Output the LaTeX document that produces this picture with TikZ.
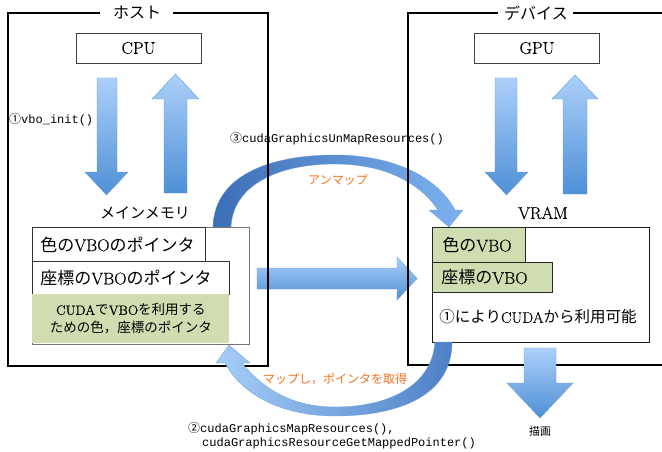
\documentclass[tikz,border=0pt]{standalone}
\usepackage{fontspec}
\setmainfont{Latin Modern Roman}[FakeBold=0.45]
\setmonofont{Liberation Mono}
\newfontfamily\jp{Noto Sans CJK JP}
\definecolor{alight}{RGB}{172,208,250}
\definecolor{adark}{RGB}{78,143,214}
\definecolor{aedge}{RGB}{105,155,215}
\definecolor{arcdarkA}{RGB}{60,110,182}
\definecolor{arclightA}{RGB}{125,178,240}
\definecolor{arclightB}{RGB}{165,205,248}
\definecolor{arcdarkB}{RGB}{78,128,198}
\definecolor{vgreen}{RGB}{208,221,176}
\definecolor{orangetxt}{RGB}{243,112,28}
\begin{document}
\begin{tikzpicture}[x=1pt,y=-1pt,
  frame/.style={line width=1.6pt, draw=black},
  unit/.style={draw=black!75, line width=0.8pt, minimum width=125pt, minimum height=30pt, inner sep=0pt, font=\fontsize{17}{20}\selectfont},
  blockarrow/.style={top color=alight, bottom color=adark, draw=aedge, line width=0.4pt},
  memwin/.style={draw=black!55, line width=0.9pt, fill=white, anchor=north west, inner sep=0pt},
  ptr/.style={draw=black!80, line width=0.8pt, anchor=north west, inner xsep=8pt, inner ysep=0pt, align=left, font=\fontsize{17}{20}\selectfont},
  vbo/.style={ptr, fill=vgreen, draw=black!85},
  code/.style={font=\fontsize{12}{14}\ttfamily, anchor=west, inner sep=0pt},
  orangelbl/.style={text=orangetxt, font=\fontsize{12}{14}\jp, inner sep=0pt},
  title/.style={font=\fontsize{16}{18}\jp, inner sep=0pt},
  caption/.style={font=\fontsize{15}{18}\selectfont, inner sep=0pt}]
\useasboundingbox (0,0) rectangle (662,452);

% middle horizontal arrow
\path[blockarrow] (257,268) -- (397,268) -- (397,257) -- (417,278.5) -- (397,300) -- (397,289) -- (257,289) -- cycle;

% arc 3 (unmap)
\path[left color=arcdarkA, right color=arclightA, draw=aedge, line width=0.3pt]
  (213,227) .. controls (214,178) and (265,155) .. (335,155)
  .. controls (395,155) and (438,178) .. (455,210)
  -- (463,210) -- (449,227) -- (429,210) -- (438,210)
  .. controls (420,183) and (385,164) .. (335,164)
  .. controls (278,164) and (233,185) .. (231,227) -- cycle;

% frames
\node[title] (host) at (137,12) {ホスト};
\node[title] (dev) at (536,13) {デバイス};
\draw[frame] (100,13) -- (8,13) -- (8,366) -- (268,366) -- (268,13) -- (173,13);
\draw[frame] (498,13) -- (408,13) -- (408,365) -- (664,365);
\draw[frame] (573,13) -- (664,13);

% processors
\node[unit] (cpu) at (138.5,48) {CPU};
\node[unit] (gpu) at (537,48) {GPU};

% vertical arrows
\path[blockarrow] (97,78) -- (117,78) -- (117,172) -- (128,172) -- (106.5,195) -- (85,172) -- (97,172) -- cycle;
\path[blockarrow] (175.5,74) -- (199,99) -- (187,99) -- (187,193) -- (164,193) -- (164,99) -- (152,99) -- cycle;
\path[blockarrow] (495,78) -- (517,78) -- (517,172) -- (528,172) -- (506.5,195) -- (485,172) -- (495,172) -- cycle;
\path[blockarrow] (575,75) -- (598,99) -- (587,99) -- (587,194) -- (563,194) -- (563,99) -- (552,99) -- cycle;

% main memory
\node[caption, font=\fontsize{15}{18}\jp] (mmlbl) at (145,213) {メインメモリ};
\node[memwin, minimum width=217pt, minimum height=117pt] (mm) at (32,227) {};
\node[ptr, text width=157pt, minimum height=34pt] (colptr) at (32,227) {{\jp 色の}VBO{\jp のポインタ}};
\node[ptr, text width=181pt, minimum height=33pt] (posptr) at (32,261) {{\jp 座標の}VBO{\jp のポインタ}};
\node[ptr, draw=none, fill=vgreen, text width=181pt, minimum height=49pt, align=center, font=\fontsize{13.5}{18}\selectfont] (cudaptr) at (32,294)
  {CUDA{\jp で}VBO{\jp を利用する}\\{\jp ための色，座標のポインタ}};

% VRAM
\node[caption, font=\fontsize{17}{20}\selectfont] (vramlbl) at (543,213) {VRAM};
\node[memwin, draw=black!90, minimum width=217pt, minimum height=115pt] (vram) at (432,227) {};
\node[vbo, inner xsep=10pt, text width=73pt, minimum height=35pt] (colvbo) at (432,227) {{\jp 色の}VBO};
\node[vbo, inner xsep=9pt, text width=102pt, minimum height=30pt] (posvbo) at (432,262) {{\jp 座標の}VBO};
\node[inner sep=0pt, font=\fontsize{15.5}{18}\selectfont] (avail) at (538,317) {{\jp ①により}CUDA{\jp から利用可能}};

% draw arrow
\path[blockarrow] (524,348) -- (556,348) -- (556,383) -- (573,383) -- (540,418) -- (507,383) -- (524,383) -- cycle;
\node[inner sep=0pt, font=\fontsize{11}{13}\jp] (drawlbl) at (540,431) {描画};

% arc 2 (map)
\path[left color=arclightB, right color=arcdarkB, draw=aedge, line width=0.3pt]
  (229,345) -- (250,363) -- (242,363)
  .. controls (268,395) and (300,407) .. (335,407)
  .. controls (390,407) and (432,385) .. (435,342)
  -- (452,342)
  .. controls (452,395) and (400,416) .. (335,416)
  .. controls (290,416) and (245,400) .. (225,363)
  -- (216,363) -- cycle;

% labels
\node[code] (l1) at (9,120) {{\jp ①}vbo\_init()};
\node[code] (l3) at (230,139) {{\jp ③}cudaGraphicsUnMapResources()};
\node[code, align=left] (l2) at (188,436) {{\jp ②}cudaGraphicsMapResources(),\\\hspace*{14pt}cudaGraphicsResourceGetMappedPointer()};
\node[orangelbl] (unmap) at (338,180) {アンマップ};
\node[orangelbl] (map) at (335,379) {マップし，ポインタを取得};
\end{tikzpicture}
\end{document}
